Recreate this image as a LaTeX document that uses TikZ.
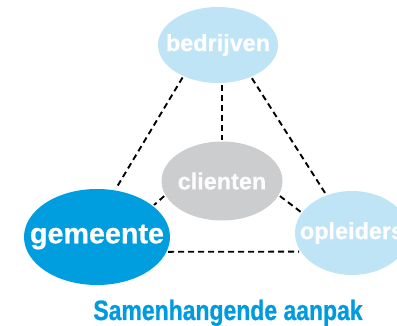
\documentclass[tikz,border=0pt]{standalone}
\usepackage{fontspec}
\setmainfont{Liberation Sans}
\newfontfamily\naamfont{Liberation Sans Bold}[FakeBold=0.6]
\newfontfamily\titelfont{Liberation Sans Bold}[FakeStretch=0.82, FakeBold=0.8]
\usepackage{tikz}
\usetikzlibrary{shapes.geometric}

\definecolor{lichtblauw}{RGB}{190,228,246}
\definecolor{donkerblauw}{RGB}{0,158,222}
\definecolor{grijs}{RGB}{204,205,207}
\definecolor{titelblauw}{RGB}{0,155,222}

\tikzset{
  partner/.style={ellipse, draw=none, inner sep=0pt},
  naam/.style={text=white, font=\naamfont\fontsize{23.4}{28}\selectfont},
  lijn/.style={line width=1.9pt, dash pattern=on 6pt off 4pt, shorten <=1.5pt, shorten >=1.5pt}
}

\begin{document}
\begin{tikzpicture}[x=1pt,y=-1pt]
\useasboundingbox (0,0) rectangle (397,326);
\clip (0,0) rectangle (397,326);
% de vier partners
\node[partner, fill=lichtblauw, minimum width=120pt, minimum height=76pt,
  label={[naam]center:bedrijven}] (bed) at (218,45) {};
\node[partner, fill=grijs, minimum width=121pt, minimum height=79pt,
  label={[naam, text=white!95!grijs]center:clienten}] (cli) at (222,181) {};
\node[partner, fill=donkerblauw, minimum width=146pt, minimum height=96pt,
  label={[naam, font=\naamfont\fontsize{28.7}{34}\selectfont]center:gemeente}] (gem) at (97,237) {};
\node[partner, fill=lichtblauw, minimum width=114pt, minimum height=84pt,
  label={[naam]center:opleiders}] (opl) at (352,233) {};
% de verbindingen
\draw[lijn] (bed.222) -- (gem.69);
\draw[lijn] (cli.north |- bed.south) -- (cli.north);
\draw[lijn] (bed.316) -- (opl.124);
\draw[lijn] (cli.194) -- (gem.29);
\draw[lijn] (cli.346) -- (opl.158);
\draw[lijn] (gem.348) -- (opl.200);
% titel
\node[anchor=base, text=titelblauw, font=\titelfont\fontsize{28}{32}\selectfont] (titel) at (228,320)
  {Samenhangende aanpak};
\end{tikzpicture}
\end{document}
